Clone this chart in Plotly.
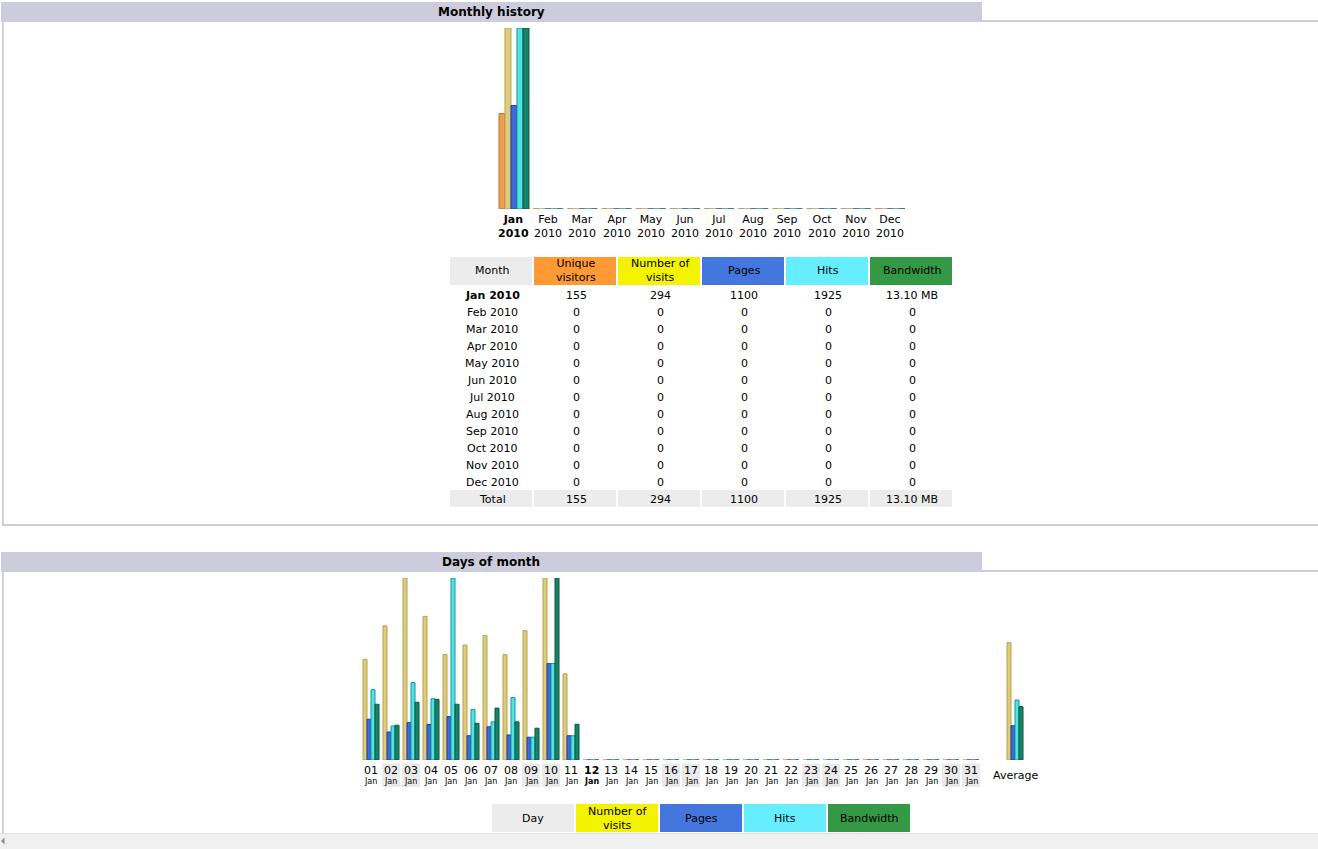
import plotly.graph_objects as go

W, H = 1318, 849


def X(px):
    return px / W


def Y(py):
    return 1 - py / H


# ---------------- data ----------------
months = ["Jan", "Feb", "Mar", "Apr", "May", "Jun", "Jul", "Aug", "Sep", "Oct", "Nov", "Dec"]
year = "2010"
current_month = "Jan"
m_unique = [155, 0, 0, 0, 0, 0, 0, 0, 0, 0, 0, 0]
m_visits = [294, 0, 0, 0, 0, 0, 0, 0, 0, 0, 0, 0]
m_pages = [1100, 0, 0, 0, 0, 0, 0, 0, 0, 0, 0, 0]
m_hits = [1925, 0, 0, 0, 0, 0, 0, 0, 0, 0, 0, 0]
m_bw_mb = [13.10, 0, 0, 0, 0, 0, 0, 0, 0, 0, 0, 0]

day_labels = ["01", "02", "03", "04", "05", "06", "07", "08", "09", "10",
              "11", "12", "13", "14", "15", "16", "17", "18", "19", "20",
              "21", "22", "23", "24", "25", "26", "27", "28", "29", "30", "31"]
day_month = "Jan"
weekend_days = ["02", "03", "09", "10", "16", "17", "23", "24", "30", "31"]
today = "12"
d_visits = [21, 28, 38, 30, 22, 24, 26, 22, 27, 38, 18,
            0, 0, 0, 0, 0, 0, 0, 0, 0, 0, 0, 0, 0, 0, 0, 0, 0, 0, 0, 0]
d_pages = [109, 75, 100, 95, 116, 65, 89, 67, 61, 258, 65,
           0, 0, 0, 0, 0, 0, 0, 0, 0, 0, 0, 0, 0, 0, 0, 0, 0, 0, 0, 0]
d_hits = [188, 91, 207, 164, 487, 135, 102, 167, 61, 258, 65,
          0, 0, 0, 0, 0, 0, 0, 0, 0, 0, 0, 0, 0, 0, 0, 0, 0, 0, 0, 0]
d_bw_mb = [1.14, 0.71, 1.18, 1.24, 1.14, 0.75, 1.06, 0.78, 0.65, 3.72, 0.73,
           0, 0, 0, 0, 0, 0, 0, 0, 0, 0, 0, 0, 0, 0, 0, 0, 0, 0, 0, 0]
avg_label = "Average"
avg_visits = 24.5
avg_pages = 91.67
avg_hits = 160.42
avg_bw_mb = 1.09

month_headers = ["Month", "Unique<br>visitors", "Number of<br>visits", "Pages", "Hits", "Bandwidth"]
day_headers = ["Day", "Number of<br>visits", "Pages", "Hits", "Bandwidth"]

# ---------------- styles ----------------
FONT = "DejaVu Sans"
LAV = "#CCCCDD"
GREY_CELL = "#ECECEC"
C_UNIQUE = ("#EE9D52", "#BD7430")
C_VISITS = ("#DDCC7C", "#B5A152")
C_PAGES = ("#4168D6", "#25419E")
C_HITS = ("#52E2E2", "#14989A")
C_BW = ("#17846A", "#08563F")
H_UNIQUE = "#FF9933"
H_VISITS = "#F3F300"
H_PAGES = "#4477DD"
H_HITS = "#66EEFF"
H_BW = "#339944"

fig = go.Figure()


def add_bars(x, y, xa, ya, colors, offset, width, base):
    fig.add_trace(go.Bar(
        x=x, y=y, base=base, xaxis=xa, yaxis=ya,
        offset=offset, width=width,
        marker=dict(color=colors[0], line=dict(color=colors[1], width=1)),
        showlegend=False, hoverinfo="skip"))


# ---------------- monthly bars ----------------
eps_m = 2 / 181
mx = list(range(len(months)))
Mv = max(m_visits)
Mh = max(m_hits)
Mb = max(m_bw_mb)
bw_m = 0.1755
off0 = -0.439
add_bars(mx, m_unique, "x", "y", C_UNIQUE, off0, bw_m, -eps_m * Mv)
add_bars(mx, m_visits, "x", "y", C_VISITS, off0 + bw_m, bw_m, -eps_m * Mv)
add_bars(mx, m_pages, "x", "y3", C_PAGES, off0 + 2 * bw_m, bw_m, -eps_m * Mh)
add_bars(mx, m_hits, "x", "y3", C_HITS, off0 + 3 * bw_m, bw_m, -eps_m * Mh)
add_bars(mx, m_bw_mb, "x", "y4", C_BW, off0 + 4 * bw_m, bw_m, -eps_m * Mb)

# ---------------- daily bars ----------------
eps_d = 2 / 182
avg_pos = 33.2
dx = list(range(1, len(day_labels) + 1)) + [avg_pos]
dv = d_visits + [avg_visits]
dp = d_pages + [avg_pages]
dh = d_hits + [avg_hits]
db = d_bw_mb + [avg_bw_mb]
DMv = max(d_visits)
DMh = max(d_hits)
DMb = max(d_bw_mb)
add_bars(dx, dv, "x2", "y2", C_VISITS, -0.4, 0.2, -eps_d * DMv)
add_bars(dx, dp, "x2", "y5", C_PAGES, -0.2, 0.2, -eps_d * DMh)
add_bars(dx, dh, "x2", "y5", C_HITS, 0.0, 0.2, -eps_d * DMh)
add_bars(dx, db, "x2", "y6", C_BW, 0.2, 0.2, -eps_d * DMb)

common = dict(visible=False, fixedrange=True, showgrid=False, zeroline=False)


def yr(M, eps):
    return [-eps * M, M * (1 - eps)]


hdr_h = 29 / 17  # header height in table-row units

fig.update_layout(
    width=W, height=H, margin=dict(l=0, r=0, t=0, b=0),
    paper_bgcolor="white", plot_bgcolor="rgba(0,0,0,0)",
    font=dict(family=FONT, size=11, color="#000000"),
    barmode="overlay", showlegend=False,
    xaxis=dict(domain=[X(496.9), X(907.1)], range=[-0.5, 11.5], anchor="y", **common),
    yaxis=dict(domain=[Y(209), Y(28)], range=yr(Mv, eps_m), anchor="x", **common),
    yaxis3=dict(overlaying="y", range=yr(Mh, eps_m), anchor="x", **common),
    yaxis4=dict(overlaying="y", range=yr(Mb, eps_m), anchor="x", **common),
    xaxis2=dict(domain=[X(361), X(1025)], range=[0.5, 33.7], anchor="y2", **common),
    yaxis2=dict(domain=[Y(760), Y(578)], range=yr(DMv, eps_d), anchor="x2", **common),
    yaxis5=dict(overlaying="y2", range=yr(DMh, eps_d), anchor="x2", **common),
    yaxis6=dict(overlaying="y2", range=yr(DMb, eps_d), anchor="x2", **common),
    xaxis7=dict(domain=[X(450), X(954)], range=[-0.5, 5.5], anchor="y7", **common),
    yaxis7=dict(domain=[Y(507), Y(257)], range=[13, -hdr_h], anchor="x7", **common),
)

shapes = []
ann = []


def prect(x0, y0, x1, y1, color, layer="below"):
    shapes.append(dict(type="rect", xref="paper", yref="paper",
                       x0=X(x0), x1=X(x1), y0=Y(y1), y1=Y(y0),
                       fillcolor=color, line=dict(width=0), layer=layer))


def ptext(x, y, text, size=11, **kw):
    ann.append(dict(xref="paper", yref="paper", x=X(x), y=Y(y), text=text,
                    showarrow=False, xanchor="center", yanchor="middle",
                    font=dict(size=size, family=FONT, color="#000000"), **kw))


# ---------------- page frame ----------------
prect(1, 2, 982, 22, LAV)
prect(982, 20, W, 22, LAV)
prect(2, 22, 3.8, 526, LAV)
prect(2, 524, W, 526, LAV)
ptext(491.5, 12, "<b>Monthly history</b>", size=12)

prect(1, 552, 982, 572, LAV)
prect(982, 570, W, 572, LAV)
prect(2, 572, 3.8, 834, LAV)
ptext(491.5, 561.5, "<b>Days of month</b>", size=12)

# bottom scrollbar strip
prect(0, 833, W, 849, "#F0F0F0", layer="above")
prect(0, 833, W, 834, "#E2E2E2", layer="above")
shapes.append(dict(type="path", xref="paper", yref="paper",
                   path=f"M {X(1)} {Y(841)} L {X(4.5)} {Y(837.5)} L {X(4.5)} {Y(844.5)} Z",
                   fillcolor="#8A8A8A", line=dict(width=0), layer="above"))

# ---------------- monthly x labels ----------------
for i, m in enumerate(months):
    txt = f"{m}<br>{year}"
    if m == current_month:
        txt = f"<b>{txt}</b>"
    ann.append(dict(xref="x", yref="paper", x=i, y=Y(226.5), text=txt, showarrow=False,
                    xanchor="center", yanchor="middle",
                    font=dict(size=11, family=FONT, color="#000000")))

# ---------------- monthly table ----------------
hdr_colors = [GREY_CELL, H_UNIQUE, H_VISITS, H_PAGES, H_HITS, H_BW]
gap = 2 / 84
for c, (h, col) in enumerate(zip(month_headers, hdr_colors)):
    shapes.append(dict(type="rect", xref="x7", yref="y7", x0=c - 0.5, x1=c + 0.5 - gap,
                       y0=-hdr_h, y1=-1 / 17, fillcolor=col, line=dict(width=0), layer="below"))
    shapes.append(dict(type="rect", xref="x7", yref="y7", x0=c - 0.5, x1=c + 0.5 - gap,
                       y0=12, y1=13, fillcolor=GREY_CELL, line=dict(width=0), layer="below"))
    ann.append(dict(xref="x7", yref="y7", x=c, y=-(hdr_h + 1 / 17) / 2, text=h, showarrow=False,
                    xanchor="center", yanchor="middle",
                    font=dict(size=11, family=FONT, color="#000000")))


def fmt_bw(v):
    return f"{v:.2f} MB" if v else "0"


rows = []
for i, m in enumerate(months):
    label = f"{m} {year}"
    if m == current_month:
        label = f"<b>{label}</b>"
    rows.append([label, str(m_unique[i]), str(m_visits[i]), str(m_pages[i]),
                 str(m_hits[i]), fmt_bw(m_bw_mb[i])])
rows.append(["Total", str(sum(m_unique)), str(sum(m_visits)), str(sum(m_pages)),
             str(sum(m_hits)), fmt_bw(round(sum(m_bw_mb), 2))])
for r, row in enumerate(rows):
    for c, val in enumerate(row):
        ann.append(dict(xref="x7", yref="y7", x=c, y=r + 0.55, text=val, showarrow=False,
                        xanchor="center", yanchor="middle",
                        font=dict(size=11, family=FONT, color="#000000")))

# ---------------- day labels ----------------
for i, d in enumerate(day_labels):
    pos = i + 1
    if d in weekend_days:
        shapes.append(dict(type="rect", xref="x2", yref="paper", x0=pos - 0.45, x1=pos + 0.45,
                           y0=Y(787), y1=Y(763.5), fillcolor="#EAEAEA", line=dict(width=0),
                           layer="below"))
    txt = f"<b>{d}</b>" if d == today else d
    jtxt = f"<b>{day_month}</b>" if d == today else day_month
    ann.append(dict(xref="x2", yref="paper", x=pos, y=Y(770.5), text=txt, showarrow=False,
                    xanchor="center", yanchor="middle",
                    font=dict(size=11, family=FONT, color="#000000")))
    ann.append(dict(xref="x2", yref="paper", x=pos, y=Y(781.5), text=jtxt, showarrow=False,
                    xanchor="center", yanchor="middle",
                    font=dict(size=8, family=FONT, color="#000000")))
ann.append(dict(xref="x2", yref="paper", x=avg_pos, y=Y(775), text=avg_label, showarrow=False,
                xanchor="center", yanchor="middle",
                font=dict(size=11, family=FONT, color="#000000")))

# ---------------- days table header ----------------
day_hdr_colors = [GREY_CELL, H_VISITS, H_PAGES, H_HITS, H_BW]
for k, (h, col) in enumerate(zip(day_headers, day_hdr_colors)):
    x0 = 492 + 84 * k
    prect(x0, 804, x0 + 82, 832, col)
    ptext(x0 + 41, 818, h)

fig.update_layout(shapes=shapes, annotations=ann)

fig.write_html("out.html", config={"displayModeBar": False},
               post_script="document.body.style.margin='0px';document.body.style.overflow='hidden';")
